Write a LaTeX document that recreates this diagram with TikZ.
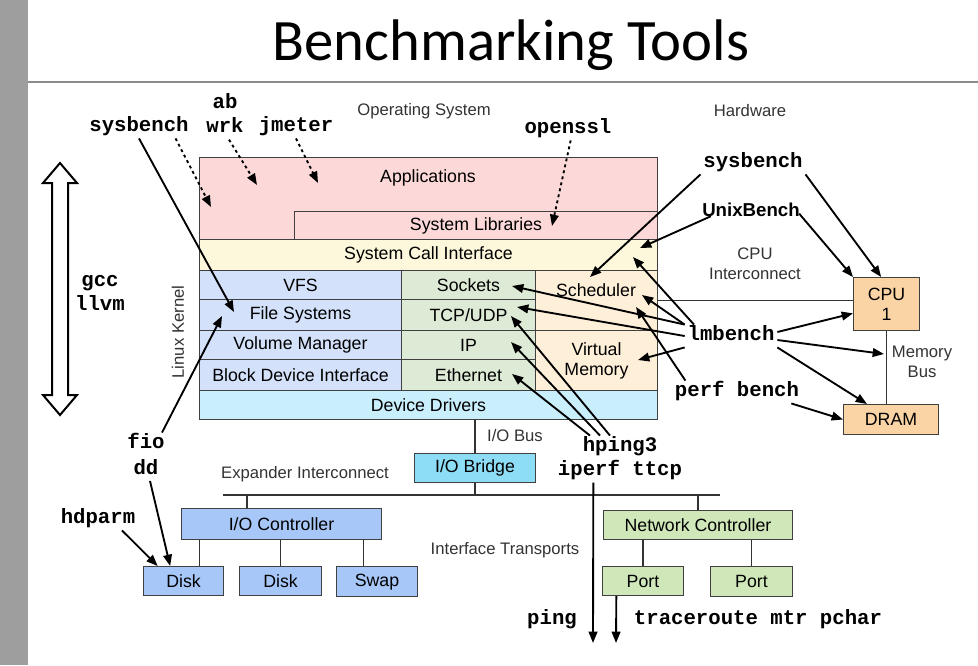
\documentclass[tikz,border=0pt]{standalone}
\usepackage{fontspec}
\setmainfont{Liberation Sans}
\setmonofont{Liberation Mono}
\newfontfamily\titlefont{Carlito}
\usetikzlibrary{arrows.meta,positioning}

\definecolor{appfill}{RGB}{252,217,216}
\definecolor{callfill}{RGB}{253,248,219}
\definecolor{fsfill}{RGB}{211,225,250}
\definecolor{netfill}{RGB}{221,234,213}
\definecolor{schedfill}{RGB}{253,239,216}
\definecolor{drvfill}{RGB}{201,238,252}
\definecolor{bridgefill}{RGB}{142,221,247}
\definecolor{iofill}{RGB}{167,199,248}
\definecolor{nicfill}{RGB}{207,231,185}
\definecolor{hwfill}{RGB}{250,212,165}

\begin{document}
\begin{tikzpicture}[x=0.75pt,y=-0.75pt,>={Triangle[length=8.5pt,width=6.5pt]},
    layer/.style={draw=black!75,line width=0.75pt,anchor=north west,inner sep=0pt,
                  font=\fontsize{13.3}{15}\selectfont,align=center},
    wh/.style 2 args={minimum width=#1*0.75pt,minimum height=#2*0.75pt},
    box text/.style={font=\fontsize{13.3}{15}\selectfont,align=center},
    caption/.style={font=\fontsize{12.5}{15}\selectfont,text=black!80,align=center},
    tool/.style={font=\ttfamily\bfseries\fontsize{15.5}{18}\selectfont,
                 text height=9.75pt,text depth=3pt,inner sep=2pt},
    bench/.style={->,line width=1.4pt},
    hint/.style={bench,dash pattern=on 2.2pt off 2.4pt},
    bus/.style={line width=1pt,black!80}]

  \fill[white] (0,0) rectangle (978,665);
  \useasboundingbox (0,0) rectangle (978,665);

  % slide frame
  \fill[black!38] (0,0) rectangle (28,665);
  \draw[black!45,line width=1.5pt] (28,82) -- (978,82);
  \node[anchor=base,font=\titlefont\fontsize{44}{50}\selectfont] (title) at (511,60) {Benchmarking Tools};

  % software stack
  \node[layer,fill=appfill,wh={458}{82}] (apps) at (199,157) {};
  \node[box text] (appsT) at (428,178) {Applications};
  \node[layer,fill=appfill,wh={363}{28}] (libs) at (294,211) {System Libraries};
  \node[layer,fill=callfill,wh={458}{31}] (calls) at (199,239) {System Call Interface};
  \node[layer,fill=fsfill,wh={202}{29}] (vfs) at (199,270) {VFS};
  \node[layer,fill=fsfill,wh={202}{31}] (fs) at (199,299) {File Systems};
  \node[layer,fill=fsfill,wh={202}{29}] (volmgr) at (199,330) {Volume Manager};
  \node[layer,fill=fsfill,wh={202}{31}] (blkdev) at (199,359) {Block Device Interface};
  \node[layer,fill=netfill,wh={134}{29}] (sockets) at (401,270) {Sockets};
  \node[layer,fill=netfill,wh={134}{31}] (tcp) at (401,299) {TCP/UDP};
  \node[layer,fill=netfill,wh={134}{29}] (ip) at (401,330) {IP};
  \node[layer,fill=netfill,wh={134}{31}] (ether) at (401,359) {Ethernet};
  \node[layer,fill=schedfill,wh={122}{60}] (sched) at (535,270) {};
  \node[box text] (schedT) at (596,290) {Scheduler};
  \node[layer,fill=schedfill,wh={122}{60}] (virtmem) at (535,330) {Virtual\\Memory};
  \node[layer,fill=drvfill,wh={458}{29}] (drivers) at (199,390) {Device Drivers};

  % hardware
  \node[layer,fill=hwfill,wh={66}{53}] (cpu) at (853,277) {CPU\\1};
  \node[layer,fill=hwfill,wh={95}{30}] (dram) at (843,404) {DRAM};
  \node[layer,fill=bridgefill,wh={121}{29}] (bridge) at (414,453) {I/O Bridge};
  \node[layer,fill=iofill,wh={200}{31}] (ioc) at (181,508) {I/O Controller};
  \node[layer,fill=iofill,wh={80}{29}] (disk1) at (143,566) {Disk};
  \node[layer,fill=iofill,wh={82}{29}] (disk2) at (239,566) {Disk};
  \node[layer,fill=iofill,wh={81}{30}] (swap) at (336,566) {Swap\vphantom{k}};
  \node[layer,fill=nicfill,wh={189}{29}] (nic) at (603,510) {Network Controller};
  \node[layer,fill=nicfill,wh={81}{29}] (port1) at (602,566) {Port};
  \node[layer,fill=nicfill,wh={82}{30}] (port2) at (710,566) {Port};

  \coordinate (busL) at (223,495);
  \coordinate (busR) at (720,495);

  \path[bus]
    (sched.east) edge (sched.east -| cpu.west)
    (cpu.south) edge (cpu.south |- dram.north)
    (bridge.north) edge (bridge.north |- drivers.south)
    (busL) edge (busR)
    (bridge.south) edge (bridge.south |- busR)
    ([xshift=-26pt]ioc.north) edge ([xshift=-26pt]ioc.north |- busL)
    ([xshift=12pt]disk1.north) edge ([xshift=12pt]disk1.north |- ioc.south)
    (disk2.north) edge (disk2.north |- ioc.south)
    ([xshift=-10pt]swap.north) edge ([xshift=-10pt]swap.north |- ioc.south)
    (nic.north) edge (nic.north |- busR)
    (port1.north) edge (port1.north |- nic.south)
    (port2.north) edge (port2.north |- nic.south);

  % captions
  \node[caption] (osL) at (424,111) {Operating System};
  \node[caption] (hwL) at (750,111) {Hardware};
  \node[caption] (cpuBus) at (755,264) {CPU\\Interconnect};
  \node[caption] (memBus) at (922,362) {Memory\\Bus};
  \node[caption] (ioBus) at (515,436) {I/O Bus};
  \node[caption] (expBus) at (305,474) {Expander Interconnect};
  \node[caption] (ifBus) at (505,550) {Interface Transports};
  \node[caption,rotate=90] (kernel) at (178,332) {Linux Kernel};

  \draw[line width=1.5pt,fill=white] (60,163) -- (77,183) -- (68,183) -- (68,395) -- (77,395)
    -- (60,415) -- (43,395) -- (52,395) -- (52,183) -- (43,183) -- cycle;

  % tools
  \node[tool] (sysL) at (139,127) {sysbench};
  \node[tool] (ab) at (225,104) {ab};
  \node[tool] (wrk) [below=1pt of ab] {wrk};
  \node[tool] (jmeter) at (296,127) {jmeter};
  \node[tool] (openssl) at (568,129) {openssl};
  \node[tool] (sysR) at (753,163) {sysbench};
  \node[font=\bfseries\fontsize{14}{16}\selectfont] (unix) at (751,210) {UnixBench};
  \node[tool] (lmb) at (731,336) {lmbench};
  \node[tool] (perf) at (737,392) {perf bench};
  \node[tool] (gcc) at (100,282) {gcc};
  \node[tool] (llvm) [below=0.5pt of gcc] {llvm};
  \node[tool] (fio) at (146,444) {fio};
  \node[tool] (dd) [below=2pt of fio] {dd};
  \node[tool] (hdparm) at (98,519) {hdparm};
  \node[tool] (hping) at (620,447) {hping3};
  \node[tool] (iperf) [below=1pt of hping] {iperf ttcp};
  \node[tool] (ping) at (552,620) {ping};
  \node[tool] (trace) at (758,620) {traceroute mtr pchar};

  \coordinate (tipFS) at (234,312);
  \coordinate (tipFS2) at (222,316);
  \coordinate (tipApp) at (211,207);
  \coordinate (tipWrk) at (257,185);
  \coordinate (tipJm) at (318,183);
  \coordinate (tipLib) at (552,226);
  \coordinate (tipSched) at (590,277);
  \coordinate (tipSched2) at (642,295);
  \coordinate (tipSched3) at (636,307);
  \coordinate (tipCall) at (640,248);
  \coordinate (tipCall2) at (633,257);
  \coordinate (tipSock) at (512,286);
  \coordinate (tipTcp) at (517,307);
  \coordinate (tipTcp2) at (511,316);
  \coordinate (tipIp) at (511,342);
  \coordinate (tipEth) at (512,374);
  \coordinate (tipVm) at (638,360);
  \coordinate (tipMem) at (884,354);
  \coordinate (pingEnd) at (593,643);
  \coordinate (traceEnd) at (616,643);

  \path[hint]
    ([xshift=-12pt]sysL.south east) edge (tipApp)
    ([xshift=3pt]wrk.south) edge (tipWrk)
    (jmeter.south) edge (tipJm)
    ([xshift=2pt]openssl.south) edge (tipLib);

  \path[bench]
    (sysL.south) edge (tipFS)
    ([xshift=12pt]fio.north) edge (tipFS2)
    ([xshift=3pt]dd.south) edge ([xshift=-10pt]disk1.north)
    ([xshift=18pt]hdparm.south) edge ([xshift=11pt]disk1.north west)
    (sysR.south west) edge (tipSched)
    (sysR.south east) edge ([xshift=-4pt]cpu.north)
    ([xshift=10pt,yshift=4pt]unix.south west) edge (tipCall)
    ([xshift=-4pt,yshift=6pt]unix.south east) edge (cpu.north west)
    (lmb.north west) edge (tipSock)
    (lmb.north west) edge (tipSched2)
    ([xshift=7pt]lmb.north west) edge (tipCall2)
    (lmb.west) edge (tipTcp)
    (lmb.south west) edge (tipVm)
    ([yshift=3pt]lmb.east) edge ([yshift=-7pt]cpu.west)
    ([yshift=-3pt]lmb.east) edge (tipMem)
    (lmb.south east) edge ([xshift=-18pt]dram.north)
    ([xshift=10pt]perf.north west) edge (tipSched3)
    ([xshift=-8pt]perf.south east) edge (dram.west)
    ([xshift=-22.5pt]hping.north) edge (tipEth)
    ([xshift=-15pt]hping.north) edge (tipIp)
    ([xshift=-7.5pt]hping.north) edge (tipTcp2)
    ([xshift=-20pt]iperf.south) edge (pingEnd)
    ([xshift=-20pt]port1.south) edge (traceEnd);

\end{tikzpicture}
\end{document}
